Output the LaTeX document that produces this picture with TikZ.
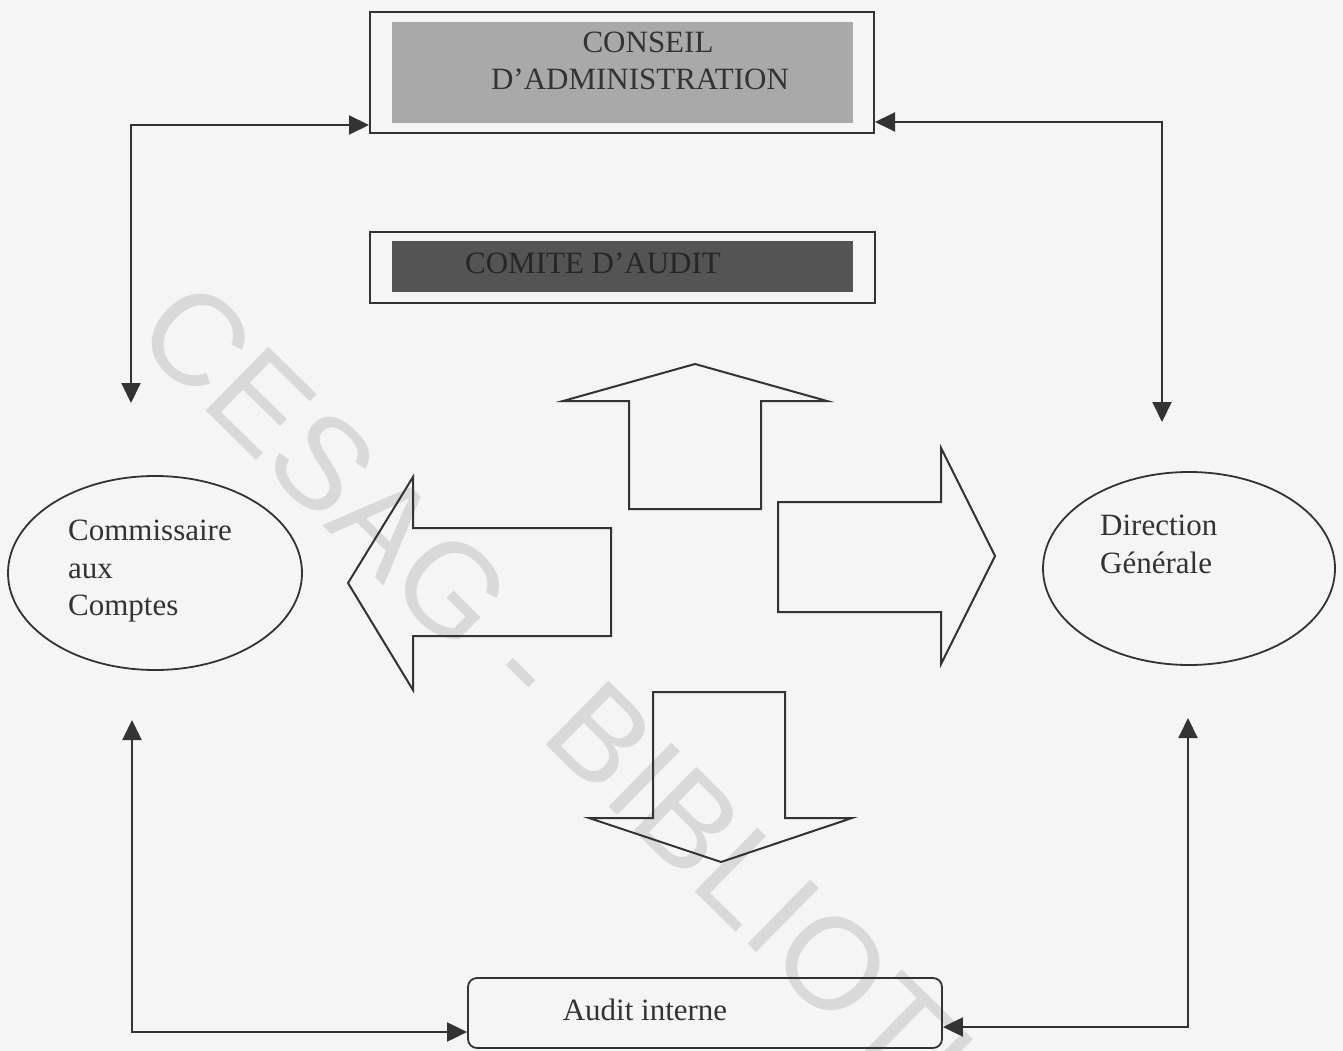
\documentclass[tikz,border=0pt]{standalone}
\usepackage{fontspec}
\setmainfont{Liberation Serif}
\newfontfamily\wmfont{Liberation Sans}
\usetikzlibrary{arrows.meta,shapes.geometric,calc}
\definecolor{paper}{HTML}{F5F5F5}
\definecolor{midgrey}{HTML}{A9A9A9}
\definecolor{darkgrey}{HTML}{545454}
\definecolor{wmgrey}{HTML}{D9D9D9}
\definecolor{ink}{HTML}{333333}
\tikzset{
  lbl/.style={font=\fontsize{31}{37}\selectfont, text=ink, inner sep=0pt},
  outerbox/.style={draw=ink, line width=2pt, inner sep=0pt},
  bandbox/.style={inner sep=0pt},
  bubble/.style={ellipse, draw=ink, line width=1.8pt, inner sep=0pt},
  roundbox/.style={draw=ink, line width=1.8pt, rounded corners=9pt, inner sep=0pt},
  conn/.style={draw=ink, line width=2pt, {Triangle[length=20pt,width=19pt]}-{Triangle[length=20pt,width=19pt]}},
  blockarrow/.style={draw=ink, line width=2pt, line join=miter}
}
\begin{document}
\begin{tikzpicture}[x=1pt,y=-1pt]
\useasboundingbox (0,0) rectangle (1343,1051);
\fill[paper] (0,0) rectangle (1343,1051);
% watermark
\begin{scope}
\clip (0,0) rectangle (1343,1051);
\node[wmgrey, font=\wmfont\fontsize{130}{130}\selectfont, anchor=mid west, rotate=-44.5, inner sep=0pt] (wm) at (133,336) {CESAG - BIBLIOTHEQUE};
\end{scope}
% Conseil d'administration
\node[outerbox, minimum width=504pt, minimum height=121pt] (ca) at (622,72.5) {};
\node[bandbox, fill=midgrey, minimum width=461pt, minimum height=101pt] (caband) at (622.5,72.5) {};
\node[lbl, anchor=base] (ca1) at (648,53) {CONSEIL};
\node[lbl, anchor=base] (ca2) at (640,90) {D’ADMINISTRATION};
% Comite d'audit
\node[outerbox, minimum width=505pt, minimum height=71pt] (cd) at (622.5,267.5) {};
\node[bandbox, fill=darkgrey, minimum width=461pt, minimum height=51pt] (cdband) at (622.5,266.5) {};
\node[lbl, anchor=base, text=black!85] (cd1) at (593,273) {COMITE D’AUDIT};
% Commissaire aux comptes
\node[bubble, minimum width=294pt, minimum height=194pt] (cac) at (155,573) {};
\node[lbl, anchor=base west] (cac1) at (68,540) {Commissaire};
\node[lbl, anchor=base west] (cac2) at (68,578) {aux};
\node[lbl, anchor=base west] (cac3) at (68,615) {Comptes};
% Direction generale
\node[bubble, minimum width=292pt, minimum height=193pt] (dg) at (1189,568.5) {};
\node[lbl, anchor=base west] (dg1) at (1100,535) {Direction};
\node[lbl, anchor=base west] (dg2) at (1100,573) {Générale};
% Audit interne
\node[roundbox, minimum width=474pt, minimum height=70pt] (ai) at (705,1013) {};
\node[lbl, anchor=base] (ai1) at (645,1020) {Audit interne};
% free ends of connectors
\coordinate (tl) at (131,403);
\coordinate (tr) at (1162,422);
\coordinate (bl) at (132,720);
\coordinate (br) at (1188,718);
% connectors
\draw[conn] (tl) |- ($(ca.south west)+(0,-9)$);
\draw[conn] (tr) |- ($(ca.south east)+(0,-12)$);
\draw[conn] (bl) |- ($(ai.west)+(0,19)$);
\draw[conn] (br) |- ($(ai.east)+(0,14)$);
% block arrows
\draw[blockarrow] (695,364) -- (827,401) -- (761,401) -- (761,509) -- (629,509) -- (629,401) -- (563,401) -- cycle;
\draw[blockarrow] (995,556) -- (941,664) -- (941,612) -- (778,612) -- (778,502) -- (941,502) -- (941,448) -- cycle;
\draw[blockarrow] (721,862) -- (589,818) -- (653,818) -- (653,692) -- (785,692) -- (785,818) -- (852,818) -- cycle;
\draw[blockarrow] (348,583) -- (413,477) -- (413,528) -- (611,528) -- (611,636) -- (413,636) -- (413,690) -- cycle;
\end{tikzpicture}
\end{document}
